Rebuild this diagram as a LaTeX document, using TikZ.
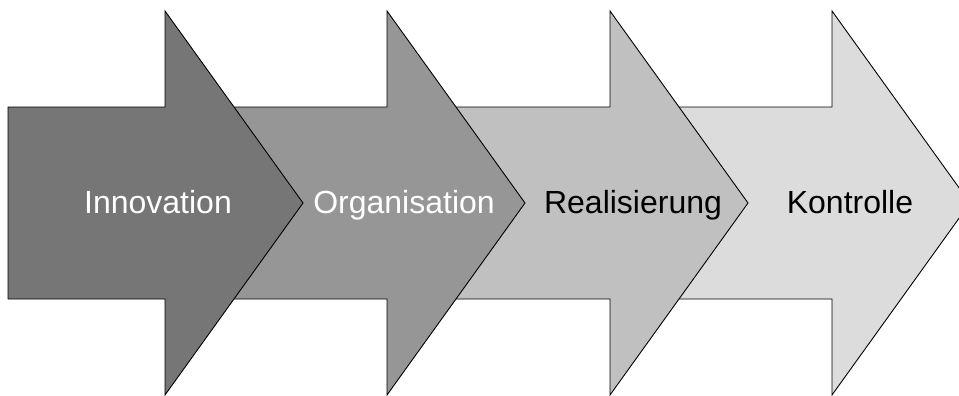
\documentclass[tikz,border=0pt]{standalone}
\usepackage{fontspec}
\setmainfont{Liberation Sans}
\usepackage{tikz}
\usetikzlibrary{positioning}
\definecolor{stageA}{HTML}{767676}
\definecolor{stageB}{HTML}{969696}
\definecolor{stageC}{HTML}{C0C0C0}
\definecolor{stageD}{HTML}{DCDCDC}
\tikzset{
    stage/.style={
           draw=black,
           line width=0.9pt,
           line join=miter,
           },
    caption/.style={
           font=\fontsize{32}{38}\selectfont,
           anchor=base,
           inner sep=0pt,
           },
}
% one block arrow: #1 = left edge, #2 = fill
\newcommand{\stagearrow}[2]{%
  \filldraw[stage, fill=#2] (#1,107) -- ++(157,0) -- ++(0,-96)
    -- ++(138,192) -- ++(-138,192) -- ++(0,-96) -- ++(-157,0) -- cycle;
}

\begin{document}
\begin{tikzpicture}[x=1pt,y=-1pt]
 \useasboundingbox (0,0) rectangle (959,396);
 \clip (0,0) rectangle (959,396);

 \stagearrow{675}{stageD}
 \stagearrow{453}{stageC}
 \stagearrow{230}{stageB}
 \stagearrow{8}{stageA}

 \node[caption, text=white] (INNOV) at (158,213) {Innovation};
 \node[caption, text=white] (ORGA) at (404,213) {Organisation};
 \node[caption] (REAL) at (633,213) {Realisierung};
 \node[caption] (KONTR) at (850,213) {Kontrolle};
\end{tikzpicture}
\end{document}
